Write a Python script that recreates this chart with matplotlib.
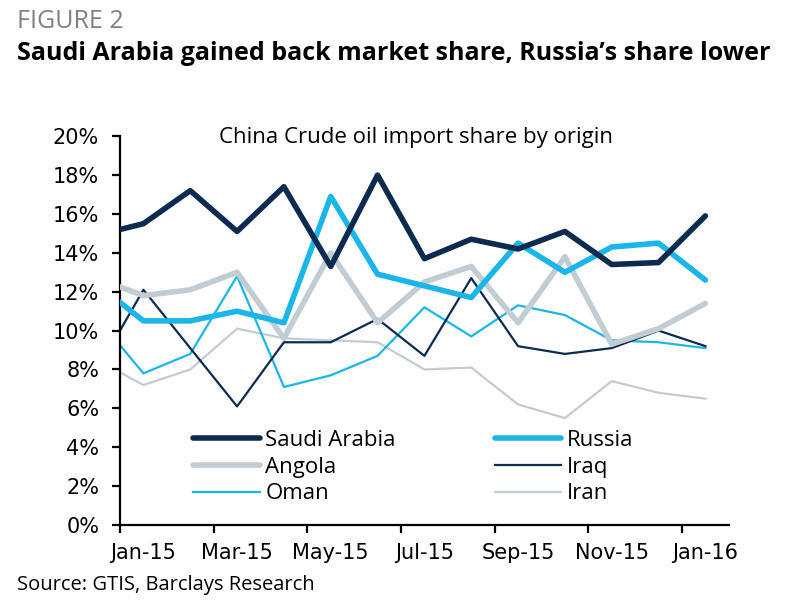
import matplotlib
matplotlib.use("Agg")
import matplotlib.pyplot as plt

# month index: Dec-14 = -0.5 ... Jan-16 = 12.5 (points sit mid-month)
months = ["Dec-14", "Jan-15", "Feb-15", "Mar-15", "Apr-15", "May-15", "Jun-15",
          "Jul-15", "Aug-15", "Sep-15", "Oct-15", "Nov-15", "Dec-15", "Jan-16"]
x = [i - 0.5 for i in range(len(months))]

saudi = [14.9, 15.5, 17.2, 15.1, 17.4, 13.3, 18.0, 13.7, 14.7, 14.2, 15.1, 13.4, 13.5, 15.9]
russia = [12.4, 10.5, 10.5, 11.0, 10.4, 16.9, 12.9, 12.3, 11.7, 14.5, 13.0, 14.3, 14.5, 12.6]
angola = [12.7, 11.8, 12.1, 13.0, 9.6, 14.0, 10.4, 12.5, 13.3, 10.4, 13.8, 9.3, 10.1, 11.4]
iraq = [7.9, 12.1, 9.1, 6.1, 9.4, 9.4, 10.6, 8.7, 12.7, 9.2, 8.8, 9.1, 10.0, 9.2]
oman = [10.7, 7.8, 8.8, 12.8, 7.1, 7.7, 8.7, 11.2, 9.7, 11.3, 10.8, 9.5, 9.4, 9.1]
iran = [8.5, 7.2, 8.0, 10.1, 9.6, 9.5, 9.4, 8.0, 8.1, 6.2, 5.5, 7.4, 6.8, 6.5]

# tick marks at month starts, labels under the mid-month points
tick_pos = [0, 2, 4, 6, 8, 10, 12]
label_pos = [p + 0.5 for p in tick_pos]
tick_labels = ["Jan-15", "Mar-15", "May-15", "Jul-15", "Sep-15", "Nov-15", "Jan-16"]

navy = "#0c2b4e"
blue = "#1ab6ea"
grey = "#c2ccd3"

fig = plt.figure(figsize=(8, 6), dpi=100)
ax = fig.add_axes([0.15, 0.125, 0.761, 0.648])

ax.plot(x, iran, color=grey, lw=1.6, label="Iran", zorder=2)
ax.plot(x, oman, color=blue, lw=1.6, label="Oman", zorder=2)
ax.plot(x, iraq, color=navy, lw=1.6, label="Iraq", zorder=2)
ax.plot(x, angola, color=grey, lw=4, label="Angola", solid_capstyle="round", zorder=3)
ax.plot(x, russia, color=blue, lw=4, label="Russia", solid_capstyle="round", zorder=4)
ax.plot(x, saudi, color=navy, lw=4, label="Saudi Arabia", solid_capstyle="round", zorder=5)

ax.set_xlim(0, 13)
ax.set_ylim(0, 20)
ax.set_yticks(range(0, 21, 2))
ax.set_yticklabels([f"{v}%" for v in range(0, 21, 2)])
ax.set_xticks(tick_pos)
ax.set_xticklabels([""] * len(tick_pos))
ax.set_xticks(label_pos, minor=True)
ax.set_xticklabels(tick_labels, minor=True)

for s in ["top", "right"]:
    ax.spines[s].set_visible(False)
for s in ["left", "bottom"]:
    ax.spines[s].set_linewidth(1.6)
ax.tick_params(axis="both", which="major", direction="out", length=6, width=1.6, labelsize=15)
ax.tick_params(axis="y", pad=9)
ax.tick_params(axis="x", which="minor", length=0, labelsize=15, pad=13)

ax.text(0.486, 0.982, "China Crude oil import share by origin", transform=ax.transAxes,
        ha="center", va="baseline", fontsize=16, family="Open Sans")

h, l = ax.get_legend_handles_labels()
order = ["Saudi Arabia", "Angola", "Oman", "Russia", "Iraq", "Iran"]
hd = dict(zip(l, h))
ax.legend([hd[k] for k in order], order, loc="upper left", bbox_to_anchor=(0.12, 0.245),
          ncol=2, frameon=False, prop={"family": "Open Sans", "size": 16},
          handlelength=3.0, handletextpad=0.25, labelspacing=0.26, columnspacing=4.45,
          borderpad=0, borderaxespad=0)

fig.text(0.021, 0.953, "FIGURE 2", color="#808080", fontsize=18, family="Open Sans", va="baseline")
fig.text(0.021, 0.9, "Saudi Arabia gained back market share, Russia\u2019s share lower",
         fontsize=18, family="Open Sans", weight="bold", va="baseline")
fig.text(0.021, 0.0167, "Source: GTIS, Barclays Research", fontsize=14.5, family="Open Sans",
         va="baseline")

fig.savefig("out.png", dpi=100)
